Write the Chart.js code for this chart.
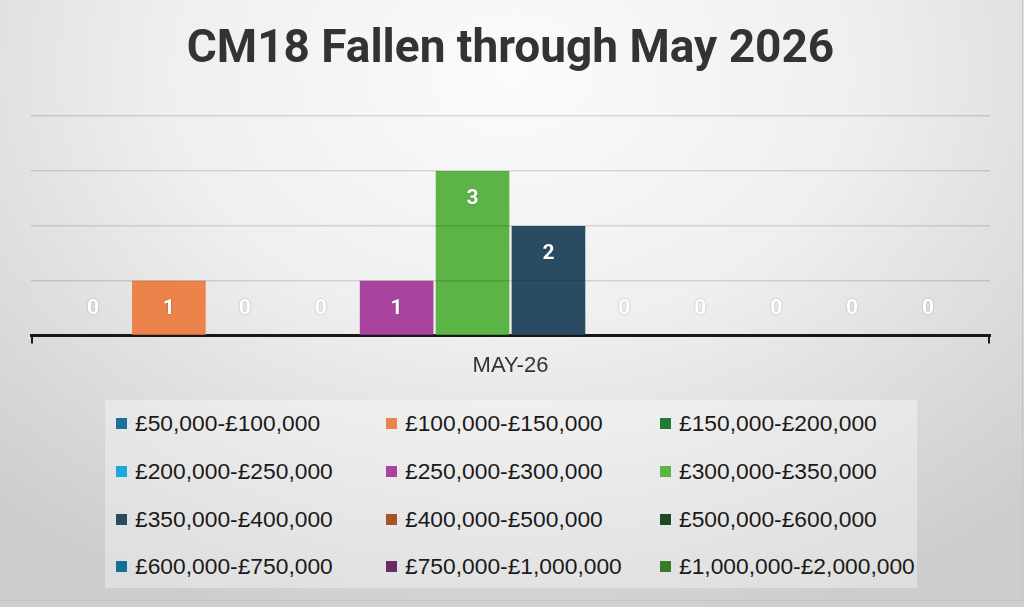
<!DOCTYPE html>
<html>
<head>
<meta charset="utf-8">
<script src="https://cdn.jsdelivr.net/npm/chart.js@4/dist/chart.umd.min.js"></script>
<style>
  html, body { margin: 0; padding: 0; }
  body {
    width: 1024px; height: 607px; overflow: hidden; position: relative;
    background: radial-gradient(ellipse 75% 95% at 50% 12%, #fbfbfb 0%, #efefef 45%, #d6d6d6 85%, #cdcdcd 100%);
  }
  #wrap { position: absolute; left: 0; top: 0; width: 1024px; height: 396px; }
  #legend {
    position: absolute; left: 105px; top: 400px; width: 812px; height: 188px;
    background: rgba(255, 255, 255, 0.35);
    display: grid; grid-template-columns: 270px 274px auto; grid-auto-rows: 47.7px;
    padding-left: 11px; box-sizing: border-box;
    font-family: "Liberation Sans", Arial, sans-serif; font-size: 22.8px; color: #1a1a1a;
  }
  #legend .item { display: flex; align-items: center; white-space: nowrap; }
  #legend .box { width: 11px; height: 11px; margin-right: 8px; flex: none; }
  #edge { position: absolute; left: 0; top: 0; width: 1022px; height: 600px; border-right: 1px solid #c4c4c4; border-bottom: 1px solid #c4c4c4; }
</style>
</head>
<body>
<div id="edge"></div>
<div id="wrap"><canvas id="chart"></canvas></div>
<div id="legend"></div>
<script>
// data
const months = ['MAY-26'];
const bands = [
  '£50,000-£100,000', '£100,000-£150,000', '£150,000-£200,000',
  '£200,000-£250,000', '£250,000-£300,000', '£300,000-£350,000',
  '£350,000-£400,000', '£400,000-£500,000', '£500,000-£600,000',
  '£600,000-£750,000', '£750,000-£1,000,000', '£1,000,000-£2,000,000'
];
const fallen = [0, 1, 0, 0, 1, 3, 2, 0, 0, 0, 0, 0];
const bandColors = [
  '#1f6f98', '#ec834a', '#237a33', '#1ea6de', '#a8449e', '#5db446',
  '#2a4c62', '#a4552a', '#1c4a26', '#156f93', '#6a2a64', '#3b7a2a'
];

// white value labels near the top of each bar
const valueLabels = {
  id: 'valueLabels',
  afterDatasetsDraw(chart) {
    const ctx = chart.ctx;
    const yScale = chart.scales.y;
    ctx.save();
    ctx.font = 'bold 21px Roboto, sans-serif';
    ctx.fillStyle = '#ffffff';
    ctx.textAlign = 'center';
    ctx.textBaseline = 'middle';
    ctx.shadowColor = 'rgba(0,0,0,0.3)';
    ctx.shadowBlur = 2;
    chart.data.datasets.forEach((ds, i) => {
      const meta = chart.getDatasetMeta(i);
      meta.data.forEach((bar, j) => {
        const v = ds.data[j];
        const y = yScale.getPixelForValue(Math.max(v, 1)) + 28;
        ctx.fillText(String(v), bar.x, y);
      });
    });
    ctx.restore();
  }
};

// small end ticks on the category axis
const axisEnds = {
  id: 'axisEnds',
  afterDraw(chart) {
    const { ctx, chartArea } = chart;
    ctx.save();
    ctx.strokeStyle = '#1a1a1a';
    ctx.lineWidth = 2;
    [chartArea.left + 1, chartArea.right - 1].forEach(x => {
      ctx.beginPath();
      ctx.moveTo(x, chartArea.bottom);
      ctx.lineTo(x, chartArea.bottom + 8);
      ctx.stroke();
    });
    ctx.restore();
  }
};

const chart = new Chart(document.getElementById('chart'), {
  type: 'bar',
  data: {
    labels: months,
    datasets: bands.map((b, i) => ({
      label: b,
      data: [fallen[i]],
      backgroundColor: bandColors[i],
      borderWidth: 0,
      categoryPercentage: 0.95,
      barPercentage: 0.97
    }))
  },
  options: {
    responsive: true,
    maintainAspectRatio: false,
    animation: false,
    layout: { padding: { left: 31, right: 34, top: 0, bottom: 0 } },
    plugins: {
      legend: { display: false },
      tooltip: { enabled: false },
      title: {
        display: true,
        text: 'CM18 Fallen through May 2026',
        color: '#333333',
        font: { family: 'Roboto', size: 46, weight: 'bold', lineHeight: 1.2 },
        padding: { top: 23, bottom: 38 }
      }
    },
    scales: {
      x: {
        grid: { display: false, drawTicks: false },
        border: { display: true, color: '#1a1a1a', width: 3 },
        ticks: {
          color: '#333333', padding: 17,
          font: { family: 'Liberation Sans', size: 22, lineHeight: 1.2 }
        }
      },
      y: {
        min: 0, max: 4,
        ticks: { display: false, stepSize: 1 },
        border: { display: false },
        grid: { color: 'rgba(0,0,0,0.13)', lineWidth: 1.5, drawTicks: false, z: 1 }
      }
    }
  },
  plugins: [valueLabels, axisEnds]
});

// legend as three columns, built from the chart's datasets
const legendEl = document.getElementById('legend');
chart.data.datasets.forEach(ds => {
  const item = document.createElement('div');
  item.className = 'item';
  const box = document.createElement('span');
  box.className = 'box';
  box.style.background = ds.backgroundColor;
  const txt = document.createElement('span');
  txt.textContent = ds.label;
  item.appendChild(box);
  item.appendChild(txt);
  legendEl.appendChild(item);
});
</script>
</body>
</html>
